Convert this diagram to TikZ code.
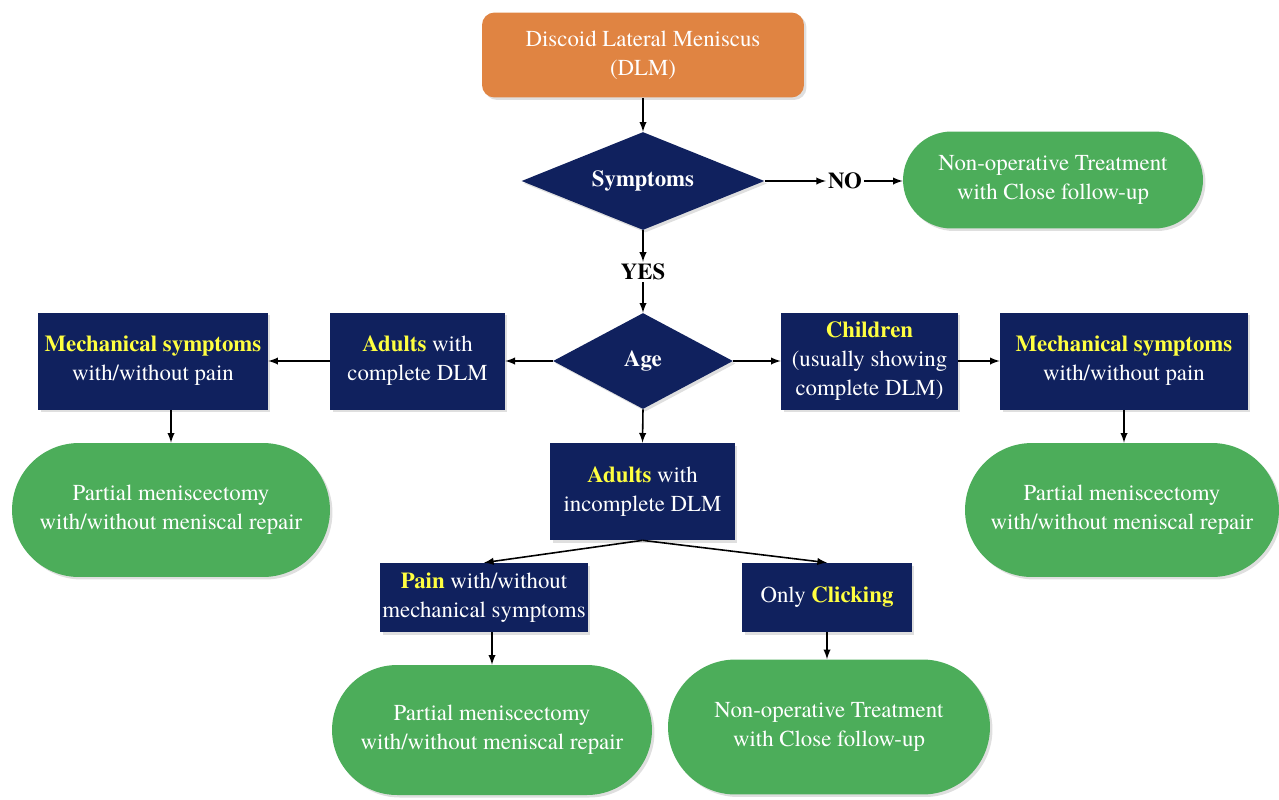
\documentclass[tikz,border=0pt]{standalone}
\usepackage{fontspec}
\IfFontExistsTF{texgyretermes-regular.otf}
  {\setmainfont{texgyretermes}[Extension=.otf, UprightFont=*-regular, BoldFont=*-bold, ItalicFont=*-italic, BoldItalicFont=*-bolditalic]}
  {\setmainfont{Liberation Serif}}
\usepackage{tikz}
\usetikzlibrary{arrows,shapes,shadows,calc,positioning}

\definecolor{dlmorange}{RGB}{224,132,66}
\definecolor{boxnavy}{RGB}{16,33,94}
\definecolor{treatgreen}{RGB}{76,173,90}
\definecolor{hlyellow}{RGB}{255,255,64}
\newcommand{\hl}[1]{\textbf{\color{hlyellow}#1}}

\tikzset{
  every node/.style={font=\rmfamily\fontsize{13}{16.5}\selectfont, align=center},
  shade/.style={drop shadow={opacity=0.25, shadow xshift=0.05cm, shadow yshift=-0.05cm}},
  startbox/.style={rectangle, rounded corners=0.25cm, fill=dlmorange, text=white, shade, inner sep=0},
  decision/.style={diamond, fill=boxnavy, text=white, font=\rmfamily\fontsize{13}{16.5}\selectfont\bfseries, inner sep=0, shade},
  navybox/.style={rectangle, fill=boxnavy, text=white, inner sep=0, shade},
  treat/.style={rounded rectangle, fill=treatgreen, text=white, inner sep=0, shade},
  answer/.style={font=\rmfamily\fontsize{13}{16.5}\selectfont\bfseries, inner sep=1pt},
  arr/.style={->, >=latex, line width=0.9pt}
}

\begin{document}
\begin{tikzpicture}[x=0.02cm, y=-0.02cm]
\useasboundingbox (0,0) rectangle (1279,799);
% top
\node[startbox, minimum width=6.44cm, minimum height=1.7cm] (dlm) at (643,55) {Discoid Lateral Meniscus\\(DLM)};
\node[decision, shape aspect=2.5, minimum width=4.86cm, minimum height=1.96cm] (symptoms) at (643,181) {Symptoms};
\node[answer] (no) at (845,181) {NO};
\node[treat, minimum width=6cm, minimum height=1.94cm] (nonoptop) at (1053,180) {Non-operative Treatment\\with Close follow-up};
\node[answer] (yes) at (643,272) {YES};
\node[decision, shape aspect=1.9, minimum width=3.6cm, minimum height=1.92cm] (age) at (643,361) {Age};
% left branch
\node[navybox, minimum width=3.5cm, minimum height=1.94cm] (adultscomp) at (417.5,361) {\hl{Adults} with\\complete DLM};
\node[navybox, minimum width=4.6cm, minimum height=1.94cm] (mechleft) at (153,361) {\hl{Mechanical symptoms}\\with/without pain};
\node[treat, minimum width=6.36cm, minimum height=2.68cm] (partleft) at (171,510) {Partial meniscectomy\\with/without meniscal repair};
% right branch
\node[navybox, minimum width=3.54cm, minimum height=1.94cm] (children) at (869.5,361) {\hl{Children}\\(usually showing\\complete DLM)};
\node[navybox, minimum width=4.96cm, minimum height=1.94cm] (mechright) at (1124,361) {\hl{Mechanical symptoms}\\with/without pain};
\node[treat, minimum width=6.28cm, minimum height=2.68cm] (partright) at (1122,510) {Partial meniscectomy\\with/without meniscal repair};
% middle branch
\node[navybox, minimum width=3.7cm, minimum height=1.94cm] (adultsinc) at (642.5,491.5) {\hl{Adults} with\\incomplete DLM};
\node[navybox, minimum width=4.16cm, minimum height=1.38cm] (pain) at (484,597.5) {\hl{Pain} with/without\\mechanical symptoms};
\node[navybox, minimum width=3.4cm, minimum height=1.38cm] (clicking) at (827,597.5) {Only \hl{Clicking}};
\node[treat, minimum width=6.4cm, minimum height=2.6cm] (partmid) at (492,730) {Partial meniscectomy\\with/without meniscal repair};
\node[treat, minimum width=6.44cm, minimum height=2.7cm] (nonopbot) at (829,727) {Non-operative Treatment\\with Close follow-up};

\draw[arr] (dlm.south) -- (symptoms.north);
\draw[arr] (symptoms.east) -- (no.west |- symptoms.east);
\draw[arr] (no.east |- symptoms.east) -- (nonoptop.west |- symptoms.east);
\draw[arr] (symptoms.south) -- (yes.north);
\draw[arr] (yes.south) -- (age.north);
\draw[arr] (age.west) -- (adultscomp.east);
\draw[arr] (adultscomp.west) -- (mechleft.east);
\draw[arr] (mechleft.south -| partleft.north) -- (partleft.north);
\draw[arr] (age.east) -- (children.west);
\draw[arr] (children.east) -- (mechright.west);
\draw[arr] (mechright.south) -- (mechright.south |- partright.north);
\draw[arr] (age.south) -- (adultsinc.north);
\draw[arr] (adultsinc.south) -- (pain.north);
\draw[arr] (adultsinc.south) -- (clicking.north);
\draw[arr] (pain.south -| partmid.north) -- (partmid.north);
\draw[arr] (clicking.south) -- (clicking.south |- nonopbot.north);
\end{tikzpicture}
\end{document}
